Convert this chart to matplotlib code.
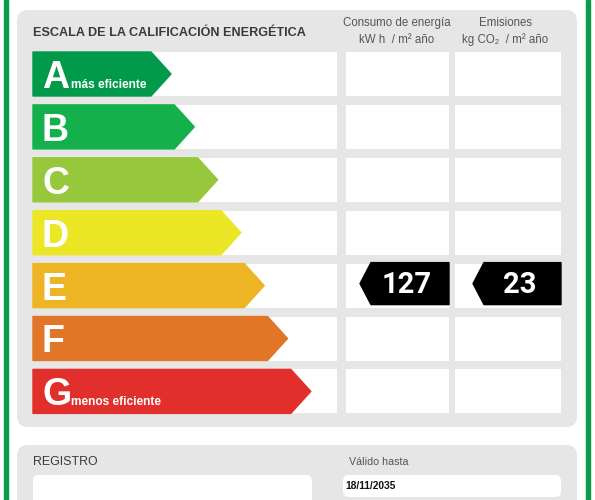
import matplotlib.pyplot as plt
from matplotlib.patches import Polygon, FancyBboxPatch, Rectangle

# Data
letters = ['A', 'B', 'C', 'D', 'E', 'F', 'G']
colors = ['#009a4a', '#14b04c', '#97c83c', '#ebe626', '#edb424', '#e17528', '#e12f2c']
sublabels = {'A': 'más eficiente', 'G': 'menos eficiente'}
rating_consumo = 'E'
rating_emision = 'E'
valor_consumo = 127
valor_emision = 23
fecha_validez = '18/11/2035'

plt.rcParams['font.family'] = ['Liberation Sans', 'DejaVu Sans']

fig = plt.figure(figsize=(5.95, 5.0), dpi=100)
ax = fig.add_axes([0, 0, 1, 1])
ax.set_xlim(0, 595)
ax.set_ylim(500, 0)
ax.axis('off')

# green frame
ax.add_patch(Rectangle((3.5, 0), 4, 500, color='#0a9a4c'))
ax.add_patch(Rectangle((586, 0), 4, 500, color='#0a9a4c'))

gray = '#e6e6e6'
# upper panel
ax.add_patch(FancyBboxPatch((17, 10), 560, 417, boxstyle='round,pad=0,rounding_size=11',
                            fc=gray, ec='none'))
# lower panel
ax.add_patch(FancyBboxPatch((17, 445), 560, 80, boxstyle='round,pad=0,rounding_size=11',
                            fc=gray, ec='none'))

ax.text(33, 33, 'ESCALA DE LA CALIFICACIÓN ENERGÉTICA', fontsize=9.1, fontweight='bold',
        color='#3a3a3a', va='center', ha='left')
ax.text(397, 23, 'Consumo de energía', fontsize=8.3, color='#555555', ha='center', va='center')
ax.text(397, 40, 'kW h  / m² año', fontsize=8.3, color='#555555', ha='center', va='center')
ax.text(505, 23, 'Emisiones', fontsize=8.3, color='#555555', ha='center', va='center')
ax.text(505, 40, 'kg CO₂  / m² año', fontsize=8.3, color='#555555', ha='center', va='center')

row_top = 52
row_h = 44
pitch = 52.9
for i, (let, col) in enumerate(zip(letters, colors)):
    y0 = row_top + i * pitch
    y1 = y0 + row_h
    ym = (y0 + y1) / 2
    # white row backgrounds
    ax.add_patch(Rectangle((33, y0), 304, row_h, fc='white', ec='none'))
    ax.add_patch(Rectangle((346, y0), 103, row_h, fc='white', ec='none'))
    ax.add_patch(Rectangle((455, y0), 106, row_h, fc='white', ec='none'))
    tip = 171 + 23.3 * i
    body = tip - 20
    ax.add_patch(Polygon([(33, y0), (body, y0), (tip, ym), (body, y1), (33, y1)],
                         closed=True, fc=col, ec=col, lw=1, joinstyle='round'))
    ax.text(42, y1 - 8, let, fontsize=27, fontweight='bold', color='white',
            ha='left', va='baseline')
    if let in sublabels:
        ax.text(71, y1 - 8, sublabels[let], fontsize=8.6, fontweight='bold', color='white',
                ha='left', va='baseline')


def value_arrow(x_tip, x_end, idx, val):
    y0 = row_top + idx * pitch - 1
    y1 = y0 + 42
    ym = (y0 + y1) / 2
    body = x_tip + 11
    ax.add_patch(Polygon([(x_tip, ym), (body, y0), (x_end, y0), (x_end, y1), (body, y1)],
                         closed=True, fc='black', ec='black', lw=1, joinstyle='round'))
    ax.text((body + x_end) / 2 - 3, ym + 1, str(val), fontsize=21, fontweight='bold',
            color='white', ha='center', va='center', family=['Roboto', 'DejaVu Sans'])


value_arrow(360, 449, letters.index(rating_consumo), valor_consumo)
value_arrow(473, 561, letters.index(rating_emision), valor_emision)

# lower panel contents
ax.text(33, 462, 'REGISTRO', fontsize=8.9, color='#3a3a3a', ha='left', va='center')
ax.add_patch(FancyBboxPatch((33, 475), 279, 40, boxstyle='round,pad=0,rounding_size=6',
                            fc='white', ec='none'))
ax.text(349, 462, 'Válido hasta', fontsize=7.7, color='#555555', ha='left', va='center')
ax.add_patch(FancyBboxPatch((343, 475), 218, 22, boxstyle='round,pad=0,rounding_size=6',
                            fc='white', ec='none'))
ax.text(345, 486, fecha_validez, fontsize=7.4, fontweight='bold', color='#111111',
        ha='left', va='center')

fig.savefig('out.png', dpi=100)
